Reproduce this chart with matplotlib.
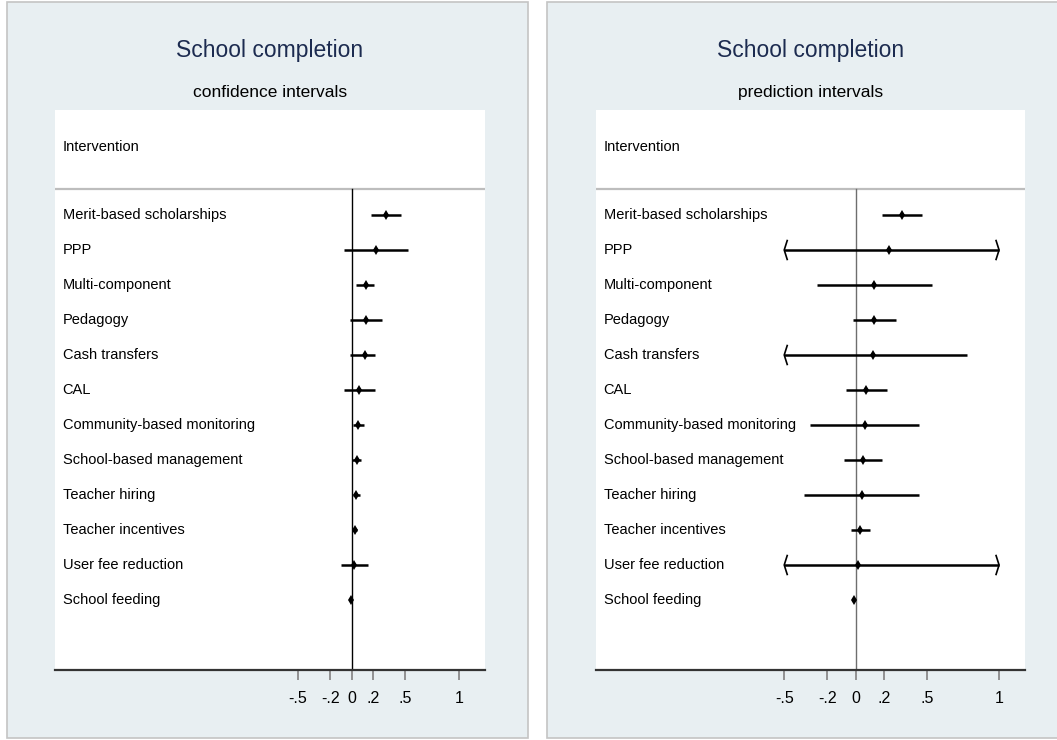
import matplotlib
matplotlib.use("Agg")
import matplotlib.pyplot as plt
from matplotlib.patches import Rectangle

plt.rcParams["font.family"] = ["Liberation Sans", "DejaVu Sans"]

interventions = [
    "Merit-based scholarships", "PPP", "Multi-component", "Pedagogy",
    "Cash transfers", "CAL", "Community-based monitoring",
    "School-based management", "Teacher hiring", "Teacher incentives",
    "User fee reduction", "School feeding",
]

# pooled effect (same in both panels)
effect = [0.32, 0.23, 0.13, 0.13, 0.12, 0.068, 0.062, 0.052, 0.042, 0.028, 0.018, -0.01]

# confidence intervals
ci_lo = [0.18, -0.07, 0.04, -0.02, -0.013, -0.07, 0.015, 0.006, 0.015, 0.006, -0.10, -0.012]
ci_hi = [0.457, 0.528, 0.208, 0.28, 0.22, 0.22, 0.118, 0.09, 0.077, 0.046, 0.149, -0.008]

# prediction intervals (values cut at the axis range are flagged below)
pi_lo = [0.184, -0.5, -0.27, -0.017, -0.5, -0.068, -0.319, -0.082, -0.361, -0.037, -0.5, -0.012]
pi_hi = [0.46, 1.0, 0.535, 0.281, 0.777, 0.22, 0.442, 0.184, 0.444, 0.098, 1.0, -0.004]
pi_lo_cut = [False, True, False, False, True, False, False, False, False, False, True, False]
pi_hi_cut = [False, True, False, False, False, False, False, False, False, False, True, False]

ticks = [-0.5, -0.2, 0, 0.2, 0.5, 1]
tick_labels = ["-.5", "-.2", "0", ".2", ".5", "1"]

W, H = 1057, 740
panel_bg = "#e8eff2"
title_col = "#1c2b50"

fig = plt.figure(figsize=(W / 100, H / 100), dpi=100)
fig.patch.set_facecolor("white")

# outer grey panels
for x0, x1 in [(7, 528), (547, 1062)]:
    fig.patches.append(Rectangle((x0 / W, 2 / H), (x1 - x0) / W, 736 / H,
                                 transform=fig.transFigure, facecolor=panel_bg,
                                 edgecolor="#c4c4c4", linewidth=1.2, zorder=-10))


def forest(left, right, xlim, lo, hi, lo_cut, hi_cut, subtitle, zero_col):
    ax = fig.add_axes([left / W, (H - 670) / H, (right - left) / W, 560 / H])
    ax.set_facecolor("white")
    ax.set_xlim(*xlim)
    ax.set_ylim(14, -2)
    for s in ["top", "left", "right"]:
        ax.spines[s].set_visible(False)
    ax.spines["bottom"].set_color("#333333")
    ax.spines["bottom"].set_linewidth(1.6)
    ax.set_yticks([])
    ax.set_xticks(ticks)
    ax.set_xticklabels(tick_labels, fontsize=11.5)
    ax.tick_params(axis="x", length=7, width=1.3, color="#8a8a8a", pad=8)

    xt = xlim[0] + (xlim[1] - xlim[0]) * 0.018
    ax.text(xt, -0.94, "Intervention", fontsize=10.5, va="center", ha="left")
    ax.axhline(0.25, color="#bdbdbd", lw=1.6)
    ax.plot([0, 0], [0.25, 14], color=zero_col, lw=1.0)

    xr = xlim[1] - xlim[0]
    for i, name in enumerate(interventions):
        y = i + 1
        ax.text(xt, y, name, fontsize=10.5, va="center", ha="left")
        ax.plot([lo[i], hi[i]], [y, y], color="black", lw=1.8, solid_capstyle="butt")
        ax.plot(effect[i], y, marker="d", color="black", ms=5.5, mew=0)
        # open arrowheads where the interval is cut at the axis range
        if lo_cut[i]:
            ax.plot([lo[i] + 0.007 * xr, lo[i], lo[i] + 0.007 * xr],
                    [y - 0.27, y, y + 0.27], color="black", lw=1.2)
        if hi_cut[i]:
            ax.plot([hi[i] - 0.007 * xr, hi[i], hi[i] - 0.007 * xr],
                    [y - 0.27, y, y + 0.27], color="black", lw=1.2)

    cx = (left + right) / 2 / W
    fig.text(cx, (H - 57) / H, "School completion", fontsize=16.5, color=title_col,
             ha="center", va="baseline")
    fig.text(cx, (H - 97) / H, subtitle, fontsize=12.5, color="black",
             ha="center", va="baseline")
    return ax


no_cut = [False] * len(interventions)
forest(55, 485, (-2.765, 1.242), ci_lo, ci_hi, no_cut, no_cut,
       "confidence intervals", "black")
forest(596, 1025, (-1.814, 1.181), pi_lo, pi_hi, pi_lo_cut, pi_hi_cut,
       "prediction intervals", "#6e6e6e")

fig.savefig("out.png", dpi=100)
